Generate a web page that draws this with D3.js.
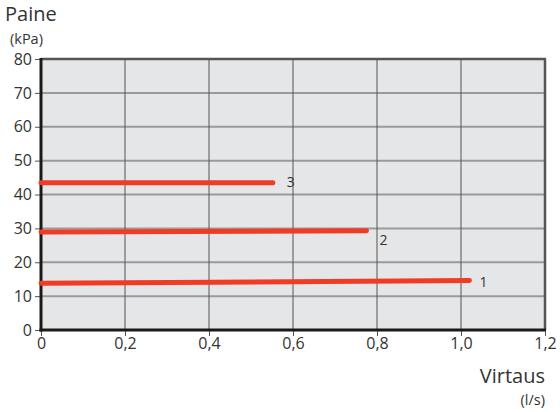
<!DOCTYPE html>
<html><head><meta charset="utf-8">
<script src="https://cdn.jsdelivr.net/npm/d3@7"></script>
<style>body{margin:0;background:#fff;} svg{display:block;} text{font-family:"Open Sans","DejaVu Sans",sans-serif;fill:#333;}</style>
</head><body>
<svg id="c" width="560" height="412"></svg>
<script>
const xTicks = [0,0.2,0.4,0.6,0.8,1.0,1.2];
const yTicks = [0,10,20,30,40,50,60,70,80];
const seriesNames = ["1","2","3"];
const seriesX = [[0,1.02],[0,0.775],[0,0.552]];
const seriesY = [[13.8,14.6],[28.9,29.3],[43.5,43.5]];

const svg = d3.select("#c");
const L=41, R=545, T=59, B=330;
const x = d3.scaleLinear().domain([0,1.2]).range([L,R]);
const y = d3.scaleLinear().domain([0,80]).range([B,T]);
const fmt = d => d===0 ? "0" : d3.format(".1f")(d).replace(".",",");

svg.append("rect").attr("x",L).attr("y",T).attr("width",R-L).attr("height",B-T).attr("fill","#e5e6e8");
svg.append("g").selectAll("line").data(yTicks.filter(d=>d>0&&d<80)).join("line")
  .attr("x1",L).attr("x2",R).attr("y1",d=>y(d)).attr("y2",d=>y(d))
  .attr("stroke","#9a9a9a").attr("stroke-width",2);
svg.append("g").selectAll("line").data(xTicks.filter(d=>d>0&&d<1.2)).join("line")
  .attr("x1",d=>x(d)).attr("x2",d=>x(d)).attr("y1",T).attr("y2",B)
  .attr("stroke","#555").attr("stroke-width",1);
svg.append("line").attr("x1",L).attr("x2",R+1).attr("y1",T).attr("y2",T).attr("stroke","#555").attr("stroke-width",2.5);
svg.append("line").attr("x1",R).attr("x2",R).attr("y1",T).attr("y2",B).attr("stroke","#555").attr("stroke-width",2.5);

const yAxis = d3.axisLeft(y).tickValues(yTicks).tickSize(6).tickPadding(3).tickFormat(d=>d);
const gy = svg.append("g").attr("transform",`translate(${L},0)`).call(yAxis);
gy.select(".domain").remove();
gy.selectAll(".tick line").attr("stroke","#555");
gy.selectAll(".tick text").style("font-size","16px").attr("fill","#333");
const xAxis = d3.axisBottom(x).tickValues(xTicks).tickSize(6).tickPadding(2).tickFormat(fmt);
const gx = svg.append("g").attr("transform",`translate(0,${B})`).call(xAxis);
gx.select(".domain").remove();
gx.selectAll(".tick line").attr("stroke","#555");
gx.selectAll(".tick text").style("font-size","16px").attr("fill","#333");

svg.append("line").attr("x1",L).attr("x2",L).attr("y1",T-1).attr("y2",B+1.5).attr("stroke","#1a1a1a").attr("stroke-width",3);
svg.append("line").attr("x1",L-1.5).attr("x2",R+1).attr("y1",B).attr("y2",B).attr("stroke","#1a1a1a").attr("stroke-width",3);

const line = d3.line().x(d=>x(d[0])).y(d=>y(d[1]));
seriesNames.forEach((n,i)=>{
  const pts = seriesX[i].map((v,j)=>[v,seriesY[i][j]]);
  svg.append("path").attr("d",line(pts)).attr("fill","none").attr("stroke","#f03c24")
    .attr("stroke-width",5).attr("stroke-linecap","round");
});
const labelOff = [[10,2],[13,9],[14,-1]];
seriesNames.forEach((n,i)=>{
  const xe = seriesX[i][1], ye = seriesY[i][1];
  svg.append("text").attr("x",x(xe)+labelOff[i][0]).attr("y",y(ye)+labelOff[i][1]).attr("dy","0.35em")
    .style("font-size","14px").text(n);
});

svg.append("text").attr("x",5).attr("y",21).style("font-size","20px").text("Paine");
svg.append("text").attr("x",10).attr("y",44).style("font-size","14.5px").text("(kPa)");
svg.append("text").attr("x",545).attr("y",383).attr("text-anchor","end").style("font-size","20px").text("Virtaus");
svg.append("text").attr("x",545).attr("y",405).attr("text-anchor","end").style("font-size","14.5px").text("(l/s)");
</script>
</body></html>
